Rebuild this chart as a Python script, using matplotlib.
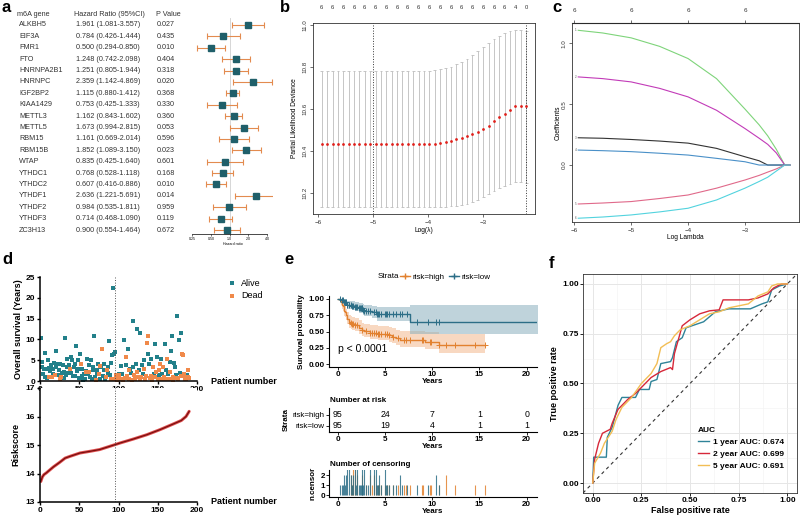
import numpy as np
import matplotlib.pyplot as plt
from matplotlib.lines import Line2D

plt.rcParams['font.family'] = ['Liberation Sans', 'DejaVu Sans']

# ---------------- data ----------------
# a: univariate cox of m6A genes
genes = ['ALKBH5', 'EIF3A', 'FMR1', 'FTO', 'HNRNPA2B1', 'HNRNPC', 'IGF2BP2', 'KIAA1429', 'METTL3',
         'METTL5', 'RBM15', 'RBM15B', 'WTAP', 'YTHDC1', 'YTHDC2', 'YTHDF1', 'YTHDF2', 'YTHDF3', 'ZC3H13']
hr = [1.961, 0.784, 0.500, 1.248, 1.251, 2.359, 1.115, 0.753, 1.162, 1.673, 1.161, 1.852, 0.835,
      0.768, 0.607, 2.636, 0.984, 0.714, 0.900]
hr_lo = [1.081, 0.426, 0.294, 0.742, 0.805, 1.142, 0.880, 0.425, 0.843, 0.994, 0.669, 1.089, 0.425,
         0.528, 0.416, 1.221, 0.535, 0.468, 0.554]
hr_hi = [3.557, 1.444, 0.850, 2.098, 1.944, 4.869, 1.412, 1.333, 1.602, 2.815, 2.014, 3.150, 1.640,
         1.118, 0.886, 5.691, 1.811, 1.090, 1.464]
p_val = ['0.027', '0.435', '0.010', '0.404', '0.318', '0.020', '0.368', '0.330', '0.360', '0.053',
         '0.596', '0.023', '0.601', '0.168', '0.010', '0.014', '0.959', '0.119', '0.672']

# b: lasso cross validation
log_lambda = np.linspace(-5.93, -2.21, 39)
cv_mean = [10.432] * 22 + [10.438, 10.440, 10.448, 10.455, 10.461, 10.470, 10.480, 10.492, 10.505,
                           10.520, 10.543, 10.560, 10.577, 10.597, 10.612, 10.616, 10.614]
cv_upper = [10.780] * 20 + [10.782, 10.785, 10.790, 10.795, 10.803, 10.813, 10.826, 10.840, 10.857,
                            10.875, 10.895, 10.915, 10.935, 10.950, 10.963, 10.972, 10.977, 10.978, 10.975]
cv_lower = [10.133] * 24 + [10.135, 10.138, 10.142, 10.148, 10.156, 10.166, 10.178, 10.192, 10.207,
                            10.220, 10.233, 10.243, 10.250, 10.252, 10.248]
nzero = [6] * 36 + [4, 2, 0]
lambda_min = -5.0
lambda_1se = -2.21

# c: coefficient paths
path_x = [-5.93, -5.5, -5.0, -4.5, -4.0, -3.5, -3.0, -2.75, -2.6, -2.45, -2.3, -2.21]
coef_paths = {
    '#7ED47A': [1.107, 1.085, 1.045, 0.975, 0.875, 0.71, 0.46, 0.33, 0.24, 0.13, 0.0, 0.0],
    '#C23BB8': [0.724, 0.71, 0.683, 0.63, 0.56, 0.45, 0.30, 0.22, 0.17, 0.10, 0.0, 0.0],
    '#333333': [0.224, 0.22, 0.21, 0.197, 0.18, 0.137, 0.068, 0.035, 0.0, 0.0, 0.0, 0.0],
    '#4A90C8': [0.123, 0.118, 0.11, 0.097, 0.082, 0.055, 0.027, 0.0, 0.0, 0.0, 0.0, 0.0],
    '#E0698A': [-0.32, -0.312, -0.30, -0.275, -0.246, -0.19, -0.123, -0.085, -0.058, -0.032, 0.0, 0.0],
    '#52D3DE': [-0.437, -0.427, -0.41, -0.385, -0.355, -0.287, -0.19, -0.135, -0.10, -0.05, 0.0, 0.0],
}

# d: patients ordered by risk score (1-95 low risk, 96-190 high risk)
os_years = [10.4, 4.6, 3.4, 1.6, 2.8, 1.0, 6.8, 2.8, 0.8, 5.0,
            3.2, 1.0, 2.4, 3.8, 0.9, 1.8, 3.0, 4.4, 1.5, 3.4,
            7.3, 4.1, 1.4, 2.6, 4.0, 0.6, 1.0, 2.0, 3.8, 0.7,
            2.2, 10.4, 1.5, 5.2, 3.4, 1.9, 3.8, 2.8, 5.8, 2.0,
            5.0, 1.2, 3.4, 1.2, 4.0, 8.4, 2.5, 2.8, 5.0, 0.8,
            6.6, 4.1, 1.2, 2.8, 0.2, 1.8, 0.6, 2.3, 2.2, 5.4,
            1.6, 3.8, 2.2, 1.0, 5.1, 0.5, 2.7, 3.4, 10.7, 1.0,
            0.3, 2.6, 1.8, 4.0, 1.8, 0.6, 3.6, 3.4, 7.6, 1.2,
            4.2, 2.6, 0.4, 1.0, 2.7, 2.0, 3.4, 9.5, 1.4, 0.6,
            4.4, 6.2, 22.3, 6.6, 0.6,
            7.0, 1.5, 0.3, 1.0, 1.6, 1.4, 0.4, 3.6, 0.6, 1.8,
            0.2, 9.8, 0.8, 5.7, 3.8, 1.2, 7.6, 2.6, 0.5, 3.0,
            2.0, 0.3, 14.5, 3.4, 1.5, 0.6, 4.0, 2.2, 12.4, 1.0,
            2.6, 0.4, 11.5, 1.0, 3.8, 1.6, 5.0, 2.8, 0.6, 1.2,
            9.2, 6.4, 10.7, 4.2, 0.8, 1.2, 5.4, 0.3, 3.4, 1.8,
            8.9, 1.0, 2.2, 5.8, 0.5, 2.6, 1.4, 4.2, 5.2, 0.6,
            1.8, 3.4, 0.9, 9.0, 2.6, 0.4, 5.4, 1.6, 0.6, 4.6,
            2.2, 7.2, 10.7, 1.0, 0.3, 4.4, 3.4, 1.5, 15.6, 0.8,
            0.6, 9.9, 2.0, 11.5, 1.2, 6.6, 6.2, 1.2, 1.8, 0.4,
            0.6, 1.4, 2.6, 1.0, 0.7]
os_dead = [0, 0, 0, 0, 0, 0, 0, 0, 0, 0,
           0, 1, 0, 0, 1, 0, 0, 0, 1, 0,
           0, 0, 0, 0, 0, 1, 1, 0, 0, 0,
           0, 0, 0, 0, 0, 0, 0, 1, 0, 0,
           0, 0, 0, 0, 0, 0, 0, 0, 0, 0,
           0, 1, 0, 0, 0, 0, 0, 0, 1, 0,
           0, 0, 1, 0, 0, 0, 0, 0, 0, 0,
           1, 0, 0, 0, 1, 0, 1, 0, 1, 0,
           0, 0, 0, 1, 1, 0, 0, 0, 0, 1,
           0, 0, 0, 0, 1,
           0, 1, 1, 1, 0, 1, 1, 0, 1, 0,
           1, 0, 1, 1, 0, 1, 0, 1, 1, 0,
           0, 1, 0, 0, 1, 1, 0, 1, 0, 1,
           0, 1, 0, 1, 0, 0, 0, 1, 1, 1,
           1, 0, 1, 0, 1, 1, 0, 1, 1, 0,
           0, 1, 1, 0, 1, 1, 0, 1, 0, 1,
           0, 1, 1, 0, 0, 1, 1, 0, 1, 0,
           1, 0, 0, 1, 1, 0, 0, 0, 0, 1,
           1, 0, 0, 0, 1, 1, 1, 1, 1, 1,
           1, 0, 1, 1, 1]
risk_idx = [1, 3, 5, 8, 17, 25, 32, 38, 51, 64, 76, 93, 102, 119, 136, 153, 170, 180, 186, 190]
risk_val = [13.72, 13.88, 13.96, 14.02, 14.23, 14.39, 14.54, 14.60, 14.72, 14.78, 14.84, 14.99,
            15.07, 15.21, 15.36, 15.54, 15.74, 15.86, 16.00, 16.18]
cutoff = 95
n_low = 95

# f: time dependent ROC
fpr_1y = [0, 0.005, 0.07, 0.075, 0.10, 0.13, 0.15, 0.22, 0.24, 0.29, 0.30, 0.33, 0.35, 0.40,
          0.41, 0.43, 0.46, 0.48, 0.57, 0.63, 0.70, 0.81, 0.87, 0.90, 0.92, 0.96, 1.0]
tpr_1y = [0, 0.13, 0.13, 0.23, 0.28, 0.39, 0.43, 0.43, 0.47, 0.47, 0.51, 0.52, 0.60, 0.61,
          0.63, 0.71, 0.73, 0.78, 0.81, 0.86, 0.875, 0.875, 0.90, 0.91, 0.97, 0.99, 1.0]
fpr_2y = [0, 0.01, 0.03, 0.05, 0.09, 0.10, 0.13, 0.18, 0.22, 0.25, 0.30, 0.35, 0.40, 0.41,
          0.42, 0.44, 0.46, 0.50, 0.55, 0.60, 0.65, 0.67, 0.80, 0.85, 0.90, 0.93, 0.97, 1.0]
tpr_2y = [0, 0.12, 0.20, 0.25, 0.27, 0.30, 0.37, 0.42, 0.45, 0.48, 0.53, 0.56, 0.58, 0.57,
          0.65, 0.72, 0.79, 0.82, 0.85, 0.865, 0.87, 0.92, 0.92, 0.93, 0.95, 0.98, 1.0, 1.0]
fpr_5y = [0, 0.01, 0.04, 0.06, 0.10, 0.12, 0.15, 0.20, 0.25, 0.30, 0.33, 0.35, 0.38, 0.40,
          0.42, 0.45, 0.50, 0.55, 0.60, 0.65, 0.70, 0.80, 0.85, 0.90, 0.92, 0.95, 1.0]
tpr_5y = [0, 0.10, 0.15, 0.20, 0.26, 0.32, 0.38, 0.43, 0.50, 0.55, 0.60, 0.68, 0.70, 0.71,
          0.74, 0.77, 0.79, 0.82, 0.85, 0.86, 0.88, 0.90, 0.94, 0.96, 0.99, 1.0, 1.0]
auc_labels = ['1 year AUC: 0.674', '2 year AUC: 0.699', '5 year AUC: 0.691']

# ---------------- layout helpers (pixel coords, origin top-left) ----------------
W, H = 800, 521
fig = plt.figure(figsize=(W / 100, H / 100), dpi=100)


def add_ax(x0, y0, x1, y1):
    return fig.add_axes([x0 / W, 1 - y1 / H, (x1 - x0) / W, (y1 - y0) / H])


def ftext(x, y, s, **kw):
    kw.setdefault('va', 'center')
    fig.text(x / W, 1 - y / H, s, **kw)


for lab, x, y in [('a', 2, 8), ('b', 280, 8), ('c', 552, 8), ('d', 2, 260), ('e', 284, 260), ('f', 549, 263)]:
    ftext(x, y, lab, fontsize=12, fontweight='bold')

# ---------------- a ----------------
row_y = [25 + 11.39 * i for i in range(len(genes))]
fs_a = 5.2
ftext(17, 14, 'm6A gene', fontsize=fs_a, color='#333333')
ftext(74, 14, 'Hazard Ratio (95%CI)', fontsize=fs_a, color='#333333')
ftext(156, 14, 'P Value', fontsize=fs_a, color='#333333')
for i, g in enumerate(genes):
    ftext(19, row_y[i], g, fontsize=fs_a, color='#333333')
    ftext(76, row_y[i], f'{hr[i]:.3f} ({hr_lo[i]:.3f}-{hr_hi[i]:.3f})', fontsize=fs_a, color='#333333')
    ftext(157, row_y[i], p_val[i], fontsize=fs_a, color='#333333')

axa = add_ax(192.3, 18, 272.6, 234)
rows = np.arange(len(genes))
axa.set_xscale('log', base=2)
axa.set_xlim(0.25, 4.9)
axa.set_ylim(18.35, -0.615)
axa.plot([1, 1], [-0.6, 18.35], color='#D0D0D0', lw=0.6)
hr_a = np.array(hr)
axa.errorbar(hr_a, rows, xerr=[hr_a - np.array(hr_lo), np.array(hr_hi) - hr_a], fmt='s', ms=4,
             mfc='#1F5F6A', mec='#1F5F6A', ecolor='#E38B4F', elinewidth=0.8, capsize=2, capthick=0.8,
             clip_on=True)
for s in ['top', 'right', 'left']:
    axa.spines[s].set_visible(False)
axa.spines['bottom'].set_bounds(0.25, 4)
axa.spines['bottom'].set_linewidth(0.5)
axa.set_yticks([])
axa.set_xticks([0.25, 0.5, 1, 2, 4])
axa.set_xticklabels(['0.25', '0.50', '1.0', '2.0', '4.0'])
axa.minorticks_off()
axa.tick_params(axis='x', labelsize=2.6, length=1.5, width=0.4, pad=1)
axa.set_xlabel('Hazard ratio', fontsize=2.6, labelpad=0.5)
axa.patch.set_alpha(0)

# ---------------- b ----------------
axb = add_ax(313, 23, 535, 214)
axb.set_xlim(-6.09, -2.05)
axb.set_ylim(10.098, 11.011)
axb.vlines(log_lambda, cv_lower, cv_upper, color='#BDBDBD', lw=0.6)
cap = 0.025
axb.hlines(cv_upper, log_lambda - cap, log_lambda + cap, color='#BDBDBD', lw=0.6)
axb.hlines(cv_lower, log_lambda - cap, log_lambda + cap, color='#BDBDBD', lw=0.6)
axb.scatter(log_lambda, cv_mean, s=4, color='#E0201B', zorder=3, linewidths=0)
axb.axvline(lambda_min, color='#333333', ls=':', lw=0.7)
axb.axvline(lambda_1se, color='#333333', ls=':', lw=0.7)
axb.set_xticks([-6, -5, -4, -3])
axb.set_yticks([10.2, 10.4, 10.6, 10.8, 11.0])
axb.set_yticklabels(['10.2', '10.4', '10.6', '10.8', '11.0'], rotation=90, va='center')
axb.tick_params(labelsize=4.5, length=2, width=0.5, colors='#333333', pad=2)
axb.set_xlabel('Log(λ)', fontsize=4.8, labelpad=2)
axb.set_ylabel('Partial Likelihood Deviance', fontsize=4.8, labelpad=3)
top_b = axb.secondary_xaxis('top')
top_b.set_xticks(log_lambda[::2])
top_b.set_xticklabels([str(v) for v in nzero[::2]])
top_b.tick_params(length=0, labelsize=4.2, pad=9, colors='#333333')
for s in axb.spines.values():
    s.set_linewidth(0.6)
    s.set_color('#333333')
top_b.spines['top'].set_visible(False)

# ---------------- c ----------------
axc = add_ax(572, 23, 799, 222)
axc.set_xlim(-6.04, -2.05)
axc.set_ylim(-0.468, 1.167)
for k, (col, vals) in enumerate(coef_paths.items()):
    axc.plot(path_x, vals, color=col, lw=0.8)
    axc.text(path_x[0] - 0.03, vals[0], str(k + 1), fontsize=2.2, color='#555555', ha='right', va='center')
axc.set_xticks([-6, -5, -4, -3])
axc.set_yticks([0.0, 0.5, 1.0])
axc.set_yticklabels(['0.0', '0.5', '1.0'], rotation=90, va='center')
axc.tick_params(labelsize=4.5, length=2, width=0.5, colors='#333333', pad=2)
axc.set_xlabel('Log Lambda', fontsize=4.8, labelpad=1)
axc.set_ylabel('Coefficients', fontsize=4.8, labelpad=0)
top_c = axc.secondary_xaxis('top')
top_c.set_xticks([-6, -5, -4, -3])
top_c.set_xticklabels(['6', '6', '6', '6'])
top_c.tick_params(length=2, width=0.5, labelsize=4.5, pad=5, colors='#333333')
for s in axc.spines.values():
    s.set_linewidth(0.6)
    s.set_color('#333333')

# ---------------- d ----------------
patients = np.arange(1, len(os_years) + 1)
t_all = np.array(os_years)
d_all = np.array(os_dead)
c_alive, c_dead = '#22808A', '#F0894A'

axd1 = add_ax(40, 277, 197, 381)
axd1.scatter(patients[d_all == 0], t_all[d_all == 0], s=5, color=c_alive, marker='s', linewidths=0, label='Alive')
axd1.scatter(patients[d_all == 1], t_all[d_all == 1], s=5, color=c_dead, marker='s', linewidths=0, label='Dead')
axd1.set_xlim(0, 200)
axd1.set_ylim(0, 25)
axd1.set_yticks([0, 5, 10, 15, 20, 25])
axd1.set_ylabel('Overall survival (Years)', fontsize=6.5, fontweight='bold', labelpad=2)
axd1.legend(loc='upper left', bbox_to_anchor=(222 / W, 1 - 274 / H), bbox_transform=fig.transFigure,
            frameon=False, fontsize=6.5, handletextpad=0.4, markerscale=1.0, labelspacing=0.4,
            borderpad=0, handlelength=1.2)

axd2 = add_ax(40, 388, 197, 502)
axd2.plot(risk_idx, risk_val, color='#E05050', lw=2.2, solid_capstyle='round')
axd2.plot(risk_idx, risk_val, color='#7A0E0E', lw=0.9)
axd2.set_xlim(0, 200)
axd2.set_ylim(13, 17)
axd2.set_yticks([13, 14, 15, 16, 17])
axd2.set_ylabel('Riskscore', fontsize=6.5, fontweight='bold', labelpad=4)

for ax in (axd1, axd2):
    ax.axvline(cutoff, color='#555555', ls=':', lw=0.7)
    ax.set_xticks([0, 50, 100, 150, 200])
    for s in ['top', 'right']:
        ax.spines[s].set_visible(False)
    for s in ['left', 'bottom']:
        ax.spines[s].set_linewidth(1.1)
    ax.tick_params(labelsize=6, length=2.5, width=1.0, pad=1)
    for lab in ax.get_xticklabels() + ax.get_yticklabels():
        lab.set_fontweight('bold')
ftext(211, 382, 'Patient number', fontsize=6.5, fontweight='bold')
ftext(211, 502, 'Patient number', fontsize=6.5, fontweight='bold')


# ---------------- e ----------------
def km(times, dead):
    t = np.asarray(times)
    d = np.asarray(dead)
    s, v = 1.0, 0.0
    xs, ss, lo, hi = [0.0], [1.0], [1.0], [1.0]
    cx, cy = [], []
    for u in np.unique(t):
        n = np.sum(t >= u)
        e = np.sum((t == u) & (d == 1))
        if e:
            s *= 1 - e / n
            if n > e:
                v += e / (n * (n - e))
            se = np.sqrt(v)
            xs.append(u)
            ss.append(s)
            lo.append(s * np.exp(-1.96 * se))
            hi.append(min(1.0, s * np.exp(1.96 * se)))
        if np.any((t == u) & (d == 0)):
            cx.append(u)
            cy.append(s)
    xs.append(t.max())
    ss.append(s)
    lo.append(lo[-1])
    hi.append(hi[-1])
    return xs, ss, lo, hi, cx, cy


c_high, c_low = '#E2812F', '#2C6E87'
groups = [('risk=high', t_all[n_low:], d_all[n_low:], c_high, '#F4B88E'),
          ('risk=low', t_all[:n_low], d_all[:n_low], c_low, '#8CB0BE')]

axe = add_ax(329, 295.7, 537, 367.3)
for name, tt, dd, col, band in groups:
    xs, ss, lo, hi, cx, cy = km(tt, dd)
    axe.fill_between(xs, lo, hi, step='post', color=band, alpha=0.55, lw=0)
    axe.step(xs, ss, where='post', color=col, lw=1.0)
    axe.plot(cx, cy, ls='none', marker='+', ms=4, mew=0.7, color=col)
axe.set_xlim(-0.95, 21.1)
axe.set_ylim(-0.05, 1.05)
axe.set_yticks([0, 0.25, 0.5, 0.75, 1.0])
axe.set_yticklabels(['0.00', '0.25', '0.50', '0.75', '1.00'])
axe.text(0, 0.23, 'p < 0.0001', fontsize=7.5, va='center')
axe.set_ylabel('Survival probability', fontsize=5.8, fontweight='bold', labelpad=3)

ftext(378, 277, 'Strata', fontsize=5.8)
fig.legend(handles=[Line2D([], [], color=c_high, marker='+', ms=4, lw=1),
                    Line2D([], [], color=c_low, marker='+', ms=4, lw=1)],
           labels=['risk=high', 'risk=low'], ncol=2, loc='center left',
           bbox_to_anchor=(400 / W, 1 - 277 / H), frameon=False, fontsize=5.8,
           handlelength=1.2, handletextpad=0.3, columnspacing=0.6, borderpad=0, borderaxespad=0)

axr = add_ax(329, 408, 537, 431.7)
axr.set_xlim(-0.95, 21.1)
axr.set_ylim(-0.56, 1.65)
for row, (name, tt, dd, col, band) in zip([1, 0], groups):
    for tp in [0, 5, 10, 15, 20]:
        axr.text(tp, row, str(int(np.sum(tt >= tp))), ha='center', va='center', fontsize=6.3)
axr.set_yticks([1, 0])
axr.set_yticklabels(['risk=high', 'risk=low'])
axr.set_ylabel('Strata', fontsize=5.8, fontweight='bold', labelpad=2)
ftext(330, 400, 'Number at risk', fontsize=5.8, fontweight='bold')

axn = add_ax(329, 470, 537, 497)
axn.set_xlim(-0.95, 21.1)
axn.set_ylim(-0.15, 2.5)
for name, tt, dd, col, band in groups:
    ct, cn = np.unique(tt[dd == 0], return_counts=True)
    axn.vlines(ct, 0, cn, color=col, lw=0.8, alpha=0.85)
axn.set_yticks([0, 1, 2])
axn.set_ylabel('n.censor', fontsize=5.8, fontweight='bold', labelpad=3)
ftext(330, 465, 'Number of censoring', fontsize=5.8, fontweight='bold')

for ax in (axe, axr, axn):
    ax.set_xticks([0, 5, 10, 15, 20])
    for s in ['top', 'right']:
        ax.spines[s].set_visible(False)
    for s in ['left', 'bottom']:
        ax.spines[s].set_linewidth(0.8)
    ax.tick_params(labelsize=5.8, length=2, width=0.6, pad=1)
    ax.set_xlabel('Years', fontsize=5.8, fontweight='bold', labelpad=0)
    for lab in ax.get_xticklabels():
        lab.set_fontweight('bold')
    if ax is not axr:
        for lab in ax.get_yticklabels():
            lab.set_fontweight('bold')

# ---------------- f ----------------
axf = add_ax(583, 274, 797, 493)
axf.set_xlim(-0.05, 1.05)
axf.set_ylim(-0.05, 1.05)
axf.set_xticks([0, 0.25, 0.5, 0.75, 1.0])
axf.set_yticks([0, 0.25, 0.5, 0.75, 1.0])
axf.set_xticks([0.125, 0.375, 0.625, 0.875], minor=True)
axf.set_yticks([0.125, 0.375, 0.625, 0.875], minor=True)
axf.set_xticklabels(['0.00', '0.25', '0.50', '0.75', '1.00'])
axf.set_yticklabels(['0.00', '0.25', '0.50', '0.75', '1.00'])
axf.grid(which='major', color='#E6E6E6', lw=0.7)
axf.grid(which='minor', color='#F2F2F2', lw=0.4)
axf.set_axisbelow(True)
axf.axline((0, 0), (1, 1), color='#333333', ls=(0, (3, 3)), lw=0.8)
roc_cols = ['#2F8398', '#D62839', '#F2BE55']
for fx, ty, col, lab in zip([fpr_1y, fpr_2y, fpr_5y], [tpr_1y, tpr_2y, tpr_5y], roc_cols, auc_labels):
    axf.plot(fx, ty, color=col, lw=1.0, label=lab)
leg = axf.legend(title='AUC', loc='upper left', bbox_to_anchor=(694 / W, 1 - 423 / H),
                 bbox_transform=fig.transFigure, frameon=False, prop={'weight': 'bold', 'size': 6},
                 alignment='left', handlelength=1.3, handletextpad=0.5, labelspacing=0.5, borderpad=0)
leg.get_title().set_fontweight('bold')
leg.get_title().set_fontsize(6)
axf.tick_params(which='both', labelsize=6, length=2, width=0.6, pad=1)
axf.tick_params(which='minor', length=0)
for lab in axf.get_xticklabels() + axf.get_yticklabels():
    lab.set_fontweight('bold')
axf.set_xlabel('False positive rate', fontsize=6.5, fontweight='bold', labelpad=1)
axf.set_ylabel('True positive rate', fontsize=6.5, fontweight='bold', labelpad=2)
for s in axf.spines.values():
    s.set_linewidth(0.6)
    s.set_color('#333333')

fig.savefig('out.png', dpi=100)
